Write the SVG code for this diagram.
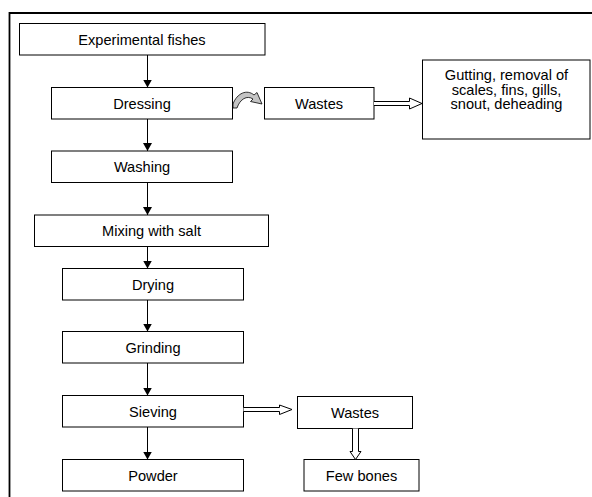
<svg xmlns="http://www.w3.org/2000/svg" width="592" height="497" viewBox="0 0 592 497">
<defs>
<style>
.box{fill:#fff;stroke:#000;stroke-width:1}
.t{font-family:"Liberation Sans",Arial,sans-serif;font-size:14.6px;fill:#000;text-anchor:middle;dominant-baseline:central}
.ln{stroke:#000;stroke-width:1;fill:none}
.hol{fill:#fff;stroke:#000;stroke-width:1;stroke-linejoin:miter}
</style>
<marker id="ah" viewBox="0 0 8 9" refX="8" refY="4.5" markerWidth="8" markerHeight="9" markerUnits="userSpaceOnUse" orient="auto">
<path d="M0,0 L8,4.5 L0,9 Z" fill="#000"/>
</marker>
</defs>
<rect width="592" height="497" fill="#fff"/>
<path d="M9.5,498 V13 H594" fill="none" stroke="#000" stroke-width="1.8"/>

<g id="n-experimental"><rect class="box" x="19.5" y="23.5" width="245.5" height="31.5"/><text class="t" x="142" y="39.5">Experimental fishes</text></g>
<g id="n-dressing"><rect class="box" x="51.5" y="87.5" width="181" height="31.5"/><text class="t" x="142" y="103.5">Dressing</text></g>
<g id="n-wastes1"><rect class="box" x="264.5" y="87.5" width="109.5" height="31.5"/><text class="t" x="319" y="103.5">Wastes</text></g>
<g id="n-gutting"><rect class="box" x="422.5" y="60" width="167.5" height="79"/>
<text class="t" x="506.5" y="75">Gutting, removal of</text>
<text class="t" x="506.5" y="89.5">scales, fins, gills,</text>
<text class="t" x="506.5" y="104">snout, deheading</text></g>
<g id="n-washing"><rect class="box" x="51.5" y="151" width="181" height="31.5"/><text class="t" x="142" y="167">Washing</text></g>
<g id="n-mixing"><rect class="box" x="34.5" y="215" width="234" height="31.5"/><text class="t" x="151.5" y="231">Mixing with salt</text></g>
<g id="n-drying"><rect class="box" x="62.5" y="268.5" width="181" height="31.5"/><text class="t" x="153" y="284.5">Drying</text></g>
<g id="n-grinding"><rect class="box" x="62.5" y="331.5" width="181" height="31.5"/><text class="t" x="153" y="347.5">Grinding</text></g>
<g id="n-sieving"><rect class="box" x="62.5" y="395.5" width="181" height="31.5"/><text class="t" x="153" y="411.5">Sieving</text></g>
<g id="n-powder"><rect class="box" x="62.5" y="459.5" width="181" height="31.5"/><text class="t" x="153" y="475.5">Powder</text></g>
<g id="n-wastes2"><rect class="box" x="297.5" y="396.5" width="115" height="32"/><text class="t" x="355" y="412.5">Wastes</text></g>
<g id="n-fewbones"><rect class="box" x="304" y="459.5" width="115" height="31.5"/><text class="t" x="361.5" y="475.5">Few bones</text></g>

<g id="connectors">
<line class="ln" x1="147.5" y1="55" x2="147.5" y2="87.5" marker-end="url(#ah)"/>
<line class="ln" x1="147.5" y1="119" x2="147.5" y2="151" marker-end="url(#ah)"/>
<line class="ln" x1="147.5" y1="182.5" x2="147.5" y2="215" marker-end="url(#ah)"/>
<line class="ln" x1="147.5" y1="246.5" x2="147.5" y2="268.5" marker-end="url(#ah)"/>
<line class="ln" x1="147.5" y1="300" x2="147.5" y2="331.5" marker-end="url(#ah)"/>
<line class="ln" x1="147.5" y1="363" x2="147.5" y2="395.5" marker-end="url(#ah)"/>
<line class="ln" x1="147.5" y1="427" x2="147.5" y2="459.5" marker-end="url(#ah)"/>
<path d="M233,104 C237,93 247,89 254,95 L257,92.5 L262,104 L250.5,101.5 L253,99 C247,95 240,99 237,108 L233,108 Z" fill="#c4c4c4" stroke="#000" stroke-width="0.8"/>
<path class="hol" d="M374,101.5 H409.5 V98 L422,103.5 L409.5,109 V105.5 H374"/>
<path class="hol" d="M243.5,407.5 H279.5 V405 L292,409.5 L279.5,414.5 V411.5 H243.5"/>
<path class="hol" d="M352.5,428.5 V451.5 H350 L355.5,459.5 L361,451.5 H358.5 V428.5"/>
</g>
</svg>
